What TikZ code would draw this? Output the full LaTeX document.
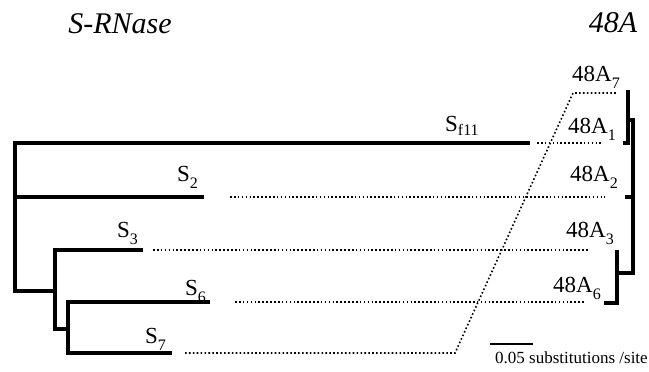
\documentclass[tikz,border=0pt]{standalone}
\usepackage{fontspec}
\setmainfont{Liberation Serif}
\usetikzlibrary{positioning}
\newcommand{\lowidx}[2][7pt]{\raisebox{-#1}{\fontsize{16}{16}\selectfont #2}}

\begin{document}
\begin{tikzpicture}[
  x=1pt, y=-1pt,
  branch/.style={line width=3.2pt, line cap=rect},
  link/.style={line width=1.6pt, dash pattern=on 1.6pt off 2.3pt},
  lbl/.style={anchor=base west, inner sep=0pt, font=\fontsize{23}{25}\selectfont},
  ttl/.style={anchor=base, inner sep=0pt, font=\fontsize{30}{32}\selectfont\itshape}]
\useasboundingbox (0,0) rectangle (649,372);
% titles
\node[ttl] (tRNase) at (120,33) {S-RNase};
\node[ttl] (t48A) at (613,32) {48A};
% S-RNase tree
\coordinate (sf11) at (528,143);
\coordinate (s2) at (202,197);
\coordinate (s3) at (141,250);
\coordinate (s6) at (208,302);
\coordinate (s7) at (170,353);
\draw[branch] (sf11) -- (15,143) -- (15,291) -- (55,291);
\draw[branch] (15,197) -- (s2);
\draw[branch] (s3) -- (55,250) -- (55,329) -- (68,329);
\draw[branch] (s6) -- (68,302) -- (68,353) -- (s7);
\node[lbl] (lsf11) at (445,131) {S\lowidx[4pt]{f11}};
\node[lbl] (ls2) at (177,181) {S\lowidx{2}};
\node[lbl] (ls3) at (117,237) {S\lowidx{3}};
\node[lbl] (ls6) at (185,295) {S\lowidx{6}};
\node[lbl] (ls7) at (145,343) {S\lowidx{7}};
% 48A tree
\coordinate (a7) at (628,92);
\coordinate (a1) at (625,143);
\coordinate (a2) at (627,197);
\coordinate (a3) at (617,252);
\coordinate (a6) at (606,303);
\draw[branch] (a7) -- (628,143) -- (a1);
\draw[branch] (628,120) -- (633,120) -- (633,273) -- (617,273);
\draw[branch] (a2) -- (633,197);
\draw[branch] (a3) -- (617,303) -- (a6);
\node[lbl] (la7) at (572,81) {48A\lowidx{7}};
\node[lbl] (la1) at (568,133) {48A\lowidx{1}};
\node[lbl] (la2) at (570,181) {48A\lowidx{2}};
\node[lbl] (la3) at (566,237) {48A\lowidx{3}};
\node[lbl] (la6) at (553,292) {48A\lowidx{6}};
% links between the two trees
\foreach \n/\a/\b/\y in {f11/537/603/143, 2/230/605/197, 3/153/588/250, 6/235/585/302}{
  \coordinate (p\n) at (\a,\y);
  \coordinate (q\n) at (\b,\y);
  \draw[link] (p\n) -- (q\n);
}
\coordinate (p7) at (185,353);
\coordinate (q7) at (617,93);
\draw[link] (p7) -- (455,353) -- (573,93) -- (q7);
% scale bar
\coordinate (bar) at (490,344);
\draw[line width=2pt] (bar) -- ++(43,0);
\node[anchor=base west, inner sep=0pt, font=\fontsize{17}{19}\selectfont] (barlbl) at (495,363) {0.05 substitutions /site};
\end{tikzpicture}
\end{document}
